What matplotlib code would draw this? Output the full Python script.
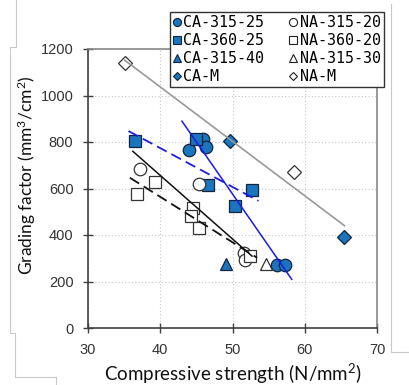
import numpy as np
import matplotlib
matplotlib.use("Agg")
import matplotlib.pyplot as plt
from matplotlib.lines import Line2D

# ---- data ----
ca315_25_x = [44.0, 45.9, 46.4, 56.1, 57.2]
ca315_25_y = [767, 814, 780, 269, 270]
ca360_25_x = [36.5, 44.9, 46.6, 52.7, 50.3]
ca360_25_y = [803, 814, 615, 594, 525]
ca315_40_x = [49.1]
ca315_40_y = [276]
cam_x = [49.7, 65.5]
cam_y = [803, 390]
na315_20_x = [37.2, 45.3, 51.6, 51.7]
na315_20_y = [685, 620, 322, 293]
na360_20_x = [36.8, 39.3, 44.5, 44.3, 45.4, 52.4]
na360_20_y = [577, 627, 517, 481, 430, 309]
na315_30_x = [54.6]
na315_30_y = [274]
nam_x = [35.1, 58.5]
nam_y = [1139, 673]

x_ticks = [30, 40, 50, 60, 70]
y_ticks = [0, 200, 400, 600, 800, 1000, 1200]

plt.rcParams["mathtext.fontset"] = "custom"
plt.rcParams["mathtext.rm"] = "Lato"
plt.rcParams["mathtext.it"] = "Lato"

BLUE = "#1B75BC"
EDGE = "#10253F"

fig = plt.figure(figsize=(4.09, 3.85), dpi=100)
ax = fig.add_axes([88/409, 1-328/385, (377-88)/409, (328-49)/385])

ms = 9
series = [
    ("CA-315-25", ca315_25_x, ca315_25_y, "o", BLUE, EDGE, ms),
    ("CA-360-25", ca360_25_x, ca360_25_y, "s", BLUE, EDGE, ms*0.9),
    ("CA-315-40", ca315_40_x, ca315_40_y, "^", BLUE, EDGE, ms),
    ("CA-M", cam_x, cam_y, "D", BLUE, EDGE, ms*0.75),
    ("NA-315-20", na315_20_x, na315_20_y, "o", "white", "#333333", ms),
    ("NA-360-20", na360_20_x, na360_20_y, "s", "white", "#333333", ms*0.9),
    ("NA-315-30", na315_30_x, na315_30_y, "^", "white", "#333333", ms),
    ("NA-M", nam_x, nam_y, "D", "white", "#333333", ms*0.75),
]
handles = []
for name, xs, ys, mk, fc, ec, s in series:
    ax.plot(xs, ys, ls="none", marker=mk, markersize=s, markerfacecolor=fc,
            markeredgecolor=ec, markeredgewidth=0.9, zorder=3)
    handles.append(Line2D([], [], ls="none", marker=mk, markersize=s*0.65,
                          markerfacecolor=fc,
                          markeredgecolor=ec if fc != "white" else "#222222",
                          markeredgewidth=0.8, label=name))

def trend(xs, ys, ext, **kw):
    k, b = np.polyfit(xs, ys, 1)
    xx = np.array([min(xs) - ext, max(xs) + ext])
    ax.plot(xx, k * xx + b, zorder=4, **kw)

trend(ca315_25_x, ca315_25_y, 1.0, color="#1a1aee", lw=1.1)
trend(ca360_25_x, ca360_25_y, 0.9, color="#1a1aee", lw=1.3, ls=(0, (6, 3)))
trend(na315_20_x, na315_20_y, 1.0, color="#111111", lw=1.1)
trend(na360_20_x, na360_20_y, 1.0, color="#111111", lw=1.3, ls=(0, (6, 3)))
trend(cam_x + nam_x, cam_y + nam_y, 0.0, color="#999999", lw=1.2)

ax.set_xlim(30, 70)
ax.set_ylim(0, 1200)
ax.set_xticks(x_ticks)
ax.set_yticks(y_ticks)
ax.grid(True, ls=(0, (1, 2)), color="#c8c8c8", lw=0.8)
ax.set_axisbelow(True)
for side in ["left", "bottom"]:
    ax.spines[side].set_color("#404040")
    ax.spines[side].set_linewidth(1.2)
for side in ["top", "right"]:
    ax.spines[side].set_color("#888888")
    ax.spines[side].set_linewidth(1.2)
ax.tick_params(direction="inout", length=7, width=1, color="#404040",
               labelsize=10.5, labelcolor="#333333")
ax.tick_params(axis="x", pad=7)
ax.tick_params(axis="y", pad=7)
for t in ax.get_xticklabels() + ax.get_yticklabels():
    t.set_fontfamily("Liberation Sans")

ax.set_xlabel("Compressive strength (N/mm$^2$)", fontfamily="Lato",
              fontsize=13.5, color="#111111", labelpad=4)
ax.set_ylabel("Grading factor (mm$^3$/cm$^2$)", fontfamily="Lato",
              fontsize=12.5, color="#111111")
ax.yaxis.set_label_coords(-0.172, 0.548)

leg = fig.legend(handles=handles, loc="upper left",
                 bbox_to_anchor=(170/409, 1-12/385), ncol=2,
                 prop={"family": ["DejaVu Sans Mono"], "size": 10.8},
                 frameon=True, fancybox=False, framealpha=1, edgecolor="#333333",
                 handlelength=0.55, handletextpad=0.15, columnspacing=1.65,
                 labelspacing=0.2, borderpad=0.2, borderaxespad=0)
leg.get_frame().set_linewidth(1.0)

# screenshot frame artifacts
gc = "#c8c8c8"
fig.add_artist(Line2D([16/409, 16/409, 10/409, 10/409, 15/409, 15/409, 56/409, 56/409],
                      [1, 1-47/385, 1-47/385, 1-333/385, 1-333/385, 1-377/385, 1-377/385, 0],
                      color=gc, lw=0.8))
fig.add_artist(Line2D([391/409, 391/409, 1], [1-4/385, 1-352/385, 1-352/385],
                      color=gc, lw=0.8))

fig.savefig("out.png", dpi=100)
